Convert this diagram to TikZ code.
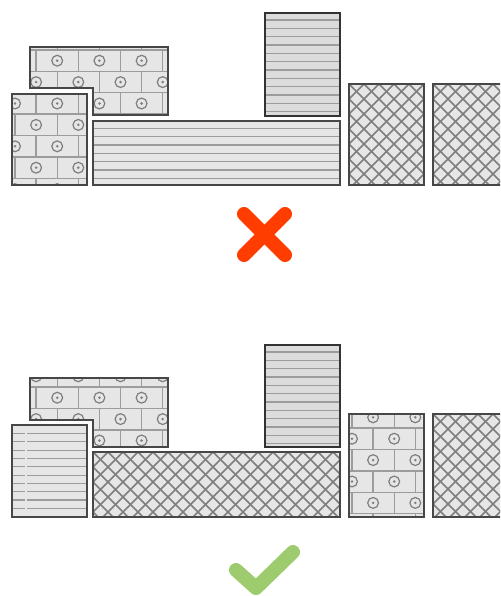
\documentclass[tikz,border=0pt]{standalone}
\usetikzlibrary{calc}

\definecolor{tilefill}{HTML}{E6E6E6}
\definecolor{tiledark}{HTML}{DCDCDC}
\definecolor{tileedge}{HTML}{474747}
\definecolor{groutgray}{HTML}{9C9C9C}
\definecolor{studgray}{HTML}{7E7E7E}
\definecolor{hatchgray}{HTML}{7E7E7E}
\definecolor{wrongred}{HTML}{FF3D00}
\definecolor{rightgreen}{HTML}{9DCB6E}

\tikzset{
  tile/.style={draw=tileedge, line width=1.7pt},
  grout/.style={draw=groutgray, line width=1.4pt},
  stud/.style={draw=studgray, line width=1.2pt},
  plank/.style={draw=groutgray, line width=1.3pt},
  hatch/.style={draw=hatchgray, line width=1.6pt},
  markstroke/.style={line width=14pt, line cap=round, line join=round},
}

\newcommand{\brickh}{21.4}
\newcommand{\brickw}{42.2}

% bricks: stud x, row top y, columns, row pairs
\newcommand{\brickfill}[4]{%
  \foreach \j in {-1,...,#4}{
    \foreach \k/\s in {0/0,1/0.5}{
      \pgfmathsetmacro{\rt}{#2+(2*\j+\k)*\brickh}
      \draw[grout] (0,\rt) -- (500,\rt);
      \foreach \i in {-1,...,#3}{
        \pgfmathsetmacro{\cx}{#1+(\i+\s)*\brickw}
        \draw[grout] (\cx+\brickw/2,\rt) -- ++(0,\brickh);
        \draw[stud] (\cx,\rt+\brickh/2) circle (5.4pt);
        \fill[studgray] (\cx,\rt+\brickh/2) circle (1.4pt);
      }
    }
  }
}

% planks: first line y, count
\newcommand{\stripefill}[2]{%
  \foreach \k in {0,...,#2}
    \draw[plank] (0,{#1+\k*8.33}) -- (500,{#1+\k*8.33});
}

% diagonal lattice: left x, top y
\newcommand{\crossfill}[2]{%
  \foreach \k in {-10,...,28}{
    \draw[hatch] ({#1+\k*15},#2) -- ++(130,130);
    \draw[hatch] ({#1+\k*15},#2) -- ++(-130,130);
  }
}

\begin{document}
\begin{tikzpicture}[x=1pt, y=-1pt]
  \useasboundingbox (0,0) rectangle (500,596);
  \clip (0,0) rectangle (500,596);

  %%% wrong layout
  % brick L piece
  \begin{scope}
    \clip (30,47) -- (168,47) -- (168,115) -- (93,115) -- (93,88) -- (30,88) -- cycle;
    \fill[tilefill] (0,0) rectangle (500,200);
    \brickfill{15}{50}{4}{3}
  \end{scope}
  \draw[tile] (30,47) -- (168,47) -- (168,115) -- (93,115) -- (93,88) -- (30,88) -- cycle;

  % brick block
  \begin{scope}
    \clip (12,94) rectangle (87,185);
    \fill[tilefill] (12,94) rectangle (87,185);
    \brickfill{15}{50}{4}{3}
  \end{scope}
  \draw[tile] (12,94) rectangle (87,185);

  % wide planks
  \begin{scope}
    \clip (93,121) rectangle (340,185);
    \fill[tilefill] (93,121) rectangle (340,185);
    \stripefill{128.3}{6}
  \end{scope}
  \draw[tile] (93,121) rectangle (340,185);

  % tall planks
  \begin{scope}
    \clip (265,13) rectangle (340,116);
    \fill[tiledark] (265,13) rectangle (340,116);
    \stripefill{20}{11}
  \end{scope}
  \draw[tile, draw=black!80] (265,13) rectangle (340,116);

  % lattice blocks
  \foreach \xl/\xr in {349/424, 433/510}{
    \begin{scope}
      \clip (\xl,84) rectangle (\xr,185);
      \fill[tilefill] (\xl,84) rectangle (\xr,185);
      \crossfill{\xl}{84}
    \end{scope}
    \draw[tile] (\xl,84) rectangle (\xr,185);
  }

  % cross
  \draw[markstroke, wrongred] (244,214) -- (285,255);
  \draw[markstroke, wrongred] (244,255) -- (285,214);

  %%% right layout
  % brick L piece
  \begin{scope}
    \clip (30,378) -- (168,378) -- (168,447) -- (93,447) -- (93,420) -- (30,420) -- cycle;
    \fill[tilefill] (0,340) rectangle (500,460);
    \brickfill{15}{387}{4}{2}
  \end{scope}
  \draw[tile] (30,378) -- (168,378) -- (168,447) -- (93,447) -- (93,420) -- (30,420) -- cycle;

  % plank block
  \begin{scope}
    \clip (12,425) rectangle (87,517);
    \fill[tilefill] (12,425) rectangle (87,517);
    \stripefill{433.5}{9}
    \fill[tilefill] (25,425) rectangle (27,517);
  \end{scope}
  \draw[tile] (12,425) rectangle (87,517);

  % wide lattice
  \begin{scope}
    \clip (93,452) rectangle (340,517);
    \fill[tilefill] (93,452) rectangle (340,517);
    \crossfill{93}{452}
  \end{scope}
  \draw[tile] (93,452) rectangle (340,517);

  % tall planks
  \begin{scope}
    \clip (265,345) rectangle (340,447);
    \fill[tiledark] (265,345) rectangle (340,447);
    \stripefill{352}{11}
  \end{scope}
  \draw[tile, draw=black!80] (265,345) rectangle (340,447);

  % brick block
  \begin{scope}
    \clip (349,414) rectangle (424,517);
    \fill[tilefill] (349,414) rectangle (424,517);
    \brickfill{352}{428}{3}{2}
  \end{scope}
  \draw[tile] (349,414) rectangle (424,517);

  % lattice block
  \begin{scope}
    \clip (433,414) rectangle (510,517);
    \fill[tilefill] (433,414) rectangle (510,517);
    \crossfill{433}{414}
  \end{scope}
  \draw[tile] (433,414) rectangle (510,517);

  % tick
  \draw[markstroke, rightgreen] (236,570) -- (256,588) -- (293,552);
\end{tikzpicture}
\end{document}
